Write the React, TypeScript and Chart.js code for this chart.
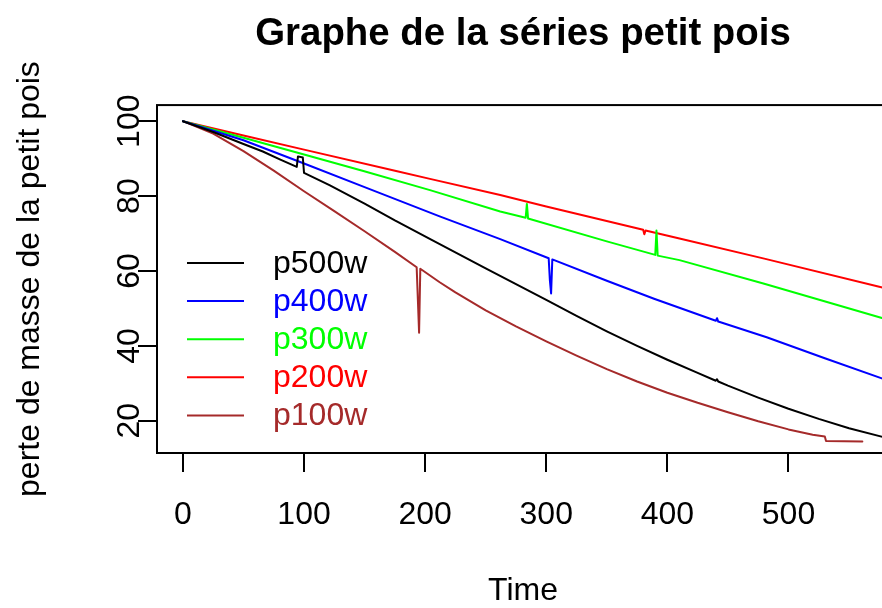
import React, { useEffect, useRef } from "react";
import { Chart, registerables } from "chart.js";

Chart.register(...registerables);

const FONT = "'Liberation Sans', Arial, sans-serif";

const titleText = "Graphe de la séries petit pois";
const xTitle = "Time";
const yTitle = "perte de masse de la petit pois";
const xTicks = [0, 100, 200, 300, 400, 500];
const yTicks = [20, 40, 60, 80, 100];

const seriesNames = ["p500w", "p400w", "p300w", "p200w", "p100w"];
const seriesColors = ["#000000", "#0000FF", "#00FF00", "#FF0000", "#A52A2A"];

// p500w
const tP500 = [0, 25, 50, 66, 80, 94, 95, 99, 100, 121, 150, 175, 205, 250, 300, 325, 350, 375, 400, 425, 440, 441, 442, 450, 475, 500, 525, 550, 580];
const vP500 = [100, 97.1, 93.9, 91.9, 89.8, 87.8, 90.6, 90.3, 86.2, 82.9, 78.0, 73.5, 68.4, 60.7, 52.3, 48.0, 43.9, 40.0, 36.3, 32.8, 30.7, 31.1, 30.5, 29.4, 26.2, 23.2, 20.5, 18.0, 15.5];

// p400w
const tP400 = [0, 50, 100, 150, 212, 262, 302, 303, 304, 305, 350, 389, 440, 441, 442, 482, 530, 580];
const vP400 = [100, 94.9, 88.7, 82.4, 74.6, 68.5, 63.4, 57.5, 54.0, 63.1, 57.4, 52.6, 46.7, 47.4, 46.5, 42.3, 36.7, 31.0];

// p300w
const tP300 = [0, 50, 100, 149, 204, 262, 283, 284, 285, 350, 390, 391, 392, 410, 480, 580];
const vP300 = [100, 95.6, 91.1, 86.7, 81.6, 75.9, 74.2, 77.9, 74.0, 67.9, 64.3, 70.8, 64.1, 62.9, 56.6, 47.2];

// p200w
const tP200 = [0, 50, 100, 176, 204, 262, 300, 380, 381, 382, 410, 480, 580];
const vP200 = [100, 96.2, 92.4, 86.7, 84.6, 80.3, 77.2, 71.0, 69.8, 70.8, 68.7, 63.3, 55.4];

// p100w
const tP100 = [0, 25, 50, 75, 100, 125, 150, 175, 193, 194, 195, 196, 212, 225, 250, 275, 300, 325, 350, 375, 400, 425, 450, 475, 500, 520, 530, 531, 561];
const vP100 = [100, 96.7, 92.0, 86.8, 81.3, 76.0, 70.6, 65.1, 61.0, 52.3, 43.5, 60.6, 57.0, 54.3, 49.5, 45.2, 41.2, 37.4, 33.8, 30.5, 27.5, 24.8, 22.3, 19.9, 17.7, 16.3, 15.8, 14.6, 14.5];

const seriesTimes = [tP500, tP400, tP300, tP200, tP100];
const seriesValues = [vP500, vP400, vP300, vP200, vP100];

const boxPlugin = {
  id: "rBox",
  afterDatasetsDraw(chart: any) {
    const { ctx, chartArea } = chart;
    ctx.save();
    ctx.strokeStyle = "#000";
    ctx.lineWidth = 2;
    ctx.strokeRect(chartArea.left, chartArea.top, chartArea.right - chartArea.left, chartArea.bottom - chartArea.top);
    ctx.restore();
  },
};

const legendPlugin = {
  id: "rLegend",
  afterDraw(chart: any, _args: any, opts: any) {
    const { ctx } = chart;
    ctx.save();
    ctx.font = `32px ${FONT}`;
    ctx.textBaseline = "middle";
    ctx.textAlign = "left";
    chart.data.datasets.forEach((ds: any, i: number) => {
      const y = opts.top + i * opts.spacing;
      ctx.strokeStyle = ds.borderColor;
      ctx.lineWidth = 2;
      ctx.beginPath();
      ctx.moveTo(opts.lineStart, y);
      ctx.lineTo(opts.lineStart + opts.lineLength, y);
      ctx.stroke();
      ctx.fillStyle = ds.borderColor;
      ctx.fillText(ds.label, opts.textX, y + 1);
    });
    ctx.restore();
  },
};

export default function App() {
  const ref = useRef<HTMLCanvasElement>(null);
  useEffect(() => {
    const canvas = ref.current;
    if (!canvas) return;
    const datasets = seriesNames.map((name, i) => ({
      label: name,
      data: seriesTimes[i].map((t, j) => ({ x: t, y: seriesValues[i][j] })),
      borderColor: seriesColors[i],
      backgroundColor: seriesColors[i],
      borderWidth: 2,
      pointRadius: 0,
      tension: 0,
      fill: false,
      borderJoinStyle: "round",
      borderCapStyle: "round",
    }));
    const chart = new Chart(canvas, {
      type: "line",
      data: { datasets } as any,
      options: {
        responsive: false,
        animation: false,
        devicePixelRatio: 1,
        layout: { padding: { left: 0, right: 21, top: 0, bottom: 0 } },
        plugins: {
          legend: { display: false },
          tooltip: { enabled: false },
          title: {
            display: true,
            text: titleText,
            fullSize: false,
            color: "#000",
            font: { family: FONT, size: 38.4, weight: "bold", lineHeight: 1.2 },
            padding: { top: 11, bottom: 48 },
          },
          rLegend: { top: 263, spacing: 38.1, lineStart: 187, lineLength: 57, textX: 273 },
        } as any,
        scales: {
          x: {
            type: "linear",
            min: -21.4,
            max: 583,
            afterBuildTicks: (s: any) => {
              s.ticks = xTicks.map((v) => ({ value: v }));
            },
            afterFit: (s: any) => {
              s.height = 155;
            },
            grid: { drawOnChartArea: false, drawTicks: true, tickLength: 19, color: "#000", lineWidth: 2 },
            border: { display: false },
            ticks: { color: "#000", font: { family: FONT, size: 32 }, padding: 24, maxRotation: 0, autoSkip: false },
            title: {
              display: true,
              text: xTitle,
              color: "#000",
              font: { family: FONT, size: 32, lineHeight: 1.06 },
              padding: { top: 0, bottom: 0 },
            },
          },
          y: {
            type: "linear",
            min: 11.4,
            max: 104.3,
            afterBuildTicks: (s: any) => {
              s.ticks = yTicks.map((v) => ({ value: v }));
            },
            afterFit: (s: any) => {
              s.width = 157;
            },
            grid: { drawOnChartArea: false, drawTicks: true, tickLength: 19, color: "#000", lineWidth: 2 },
            border: { display: false },
            ticks: {
              color: "#000",
              font: { family: FONT, size: 32 },
              padding: -18.7,
              minRotation: 90,
              maxRotation: 90,
              crossAlign: "center",
              autoSkip: false,
            },
            title: {
              display: true,
              text: yTitle,
              color: "#000",
              font: { family: FONT, size: 32, lineHeight: 1.125 },
              padding: { top: 12, bottom: 0 },
            },
          },
        },
      } as any,
      plugins: [boxPlugin, legendPlugin],
    });
    return () => chart.destroy();
  }, []);

  return (
    <div
      style={{
        position: "absolute",
        left: 0,
        top: 0,
        width: 882,
        height: 608,
        overflow: "hidden",
        background: "#fff",
      }}
    >
      <canvas ref={ref} width={910} height={608} style={{ display: "block", width: 910, height: 608 }} />
    </div>
  );
}
